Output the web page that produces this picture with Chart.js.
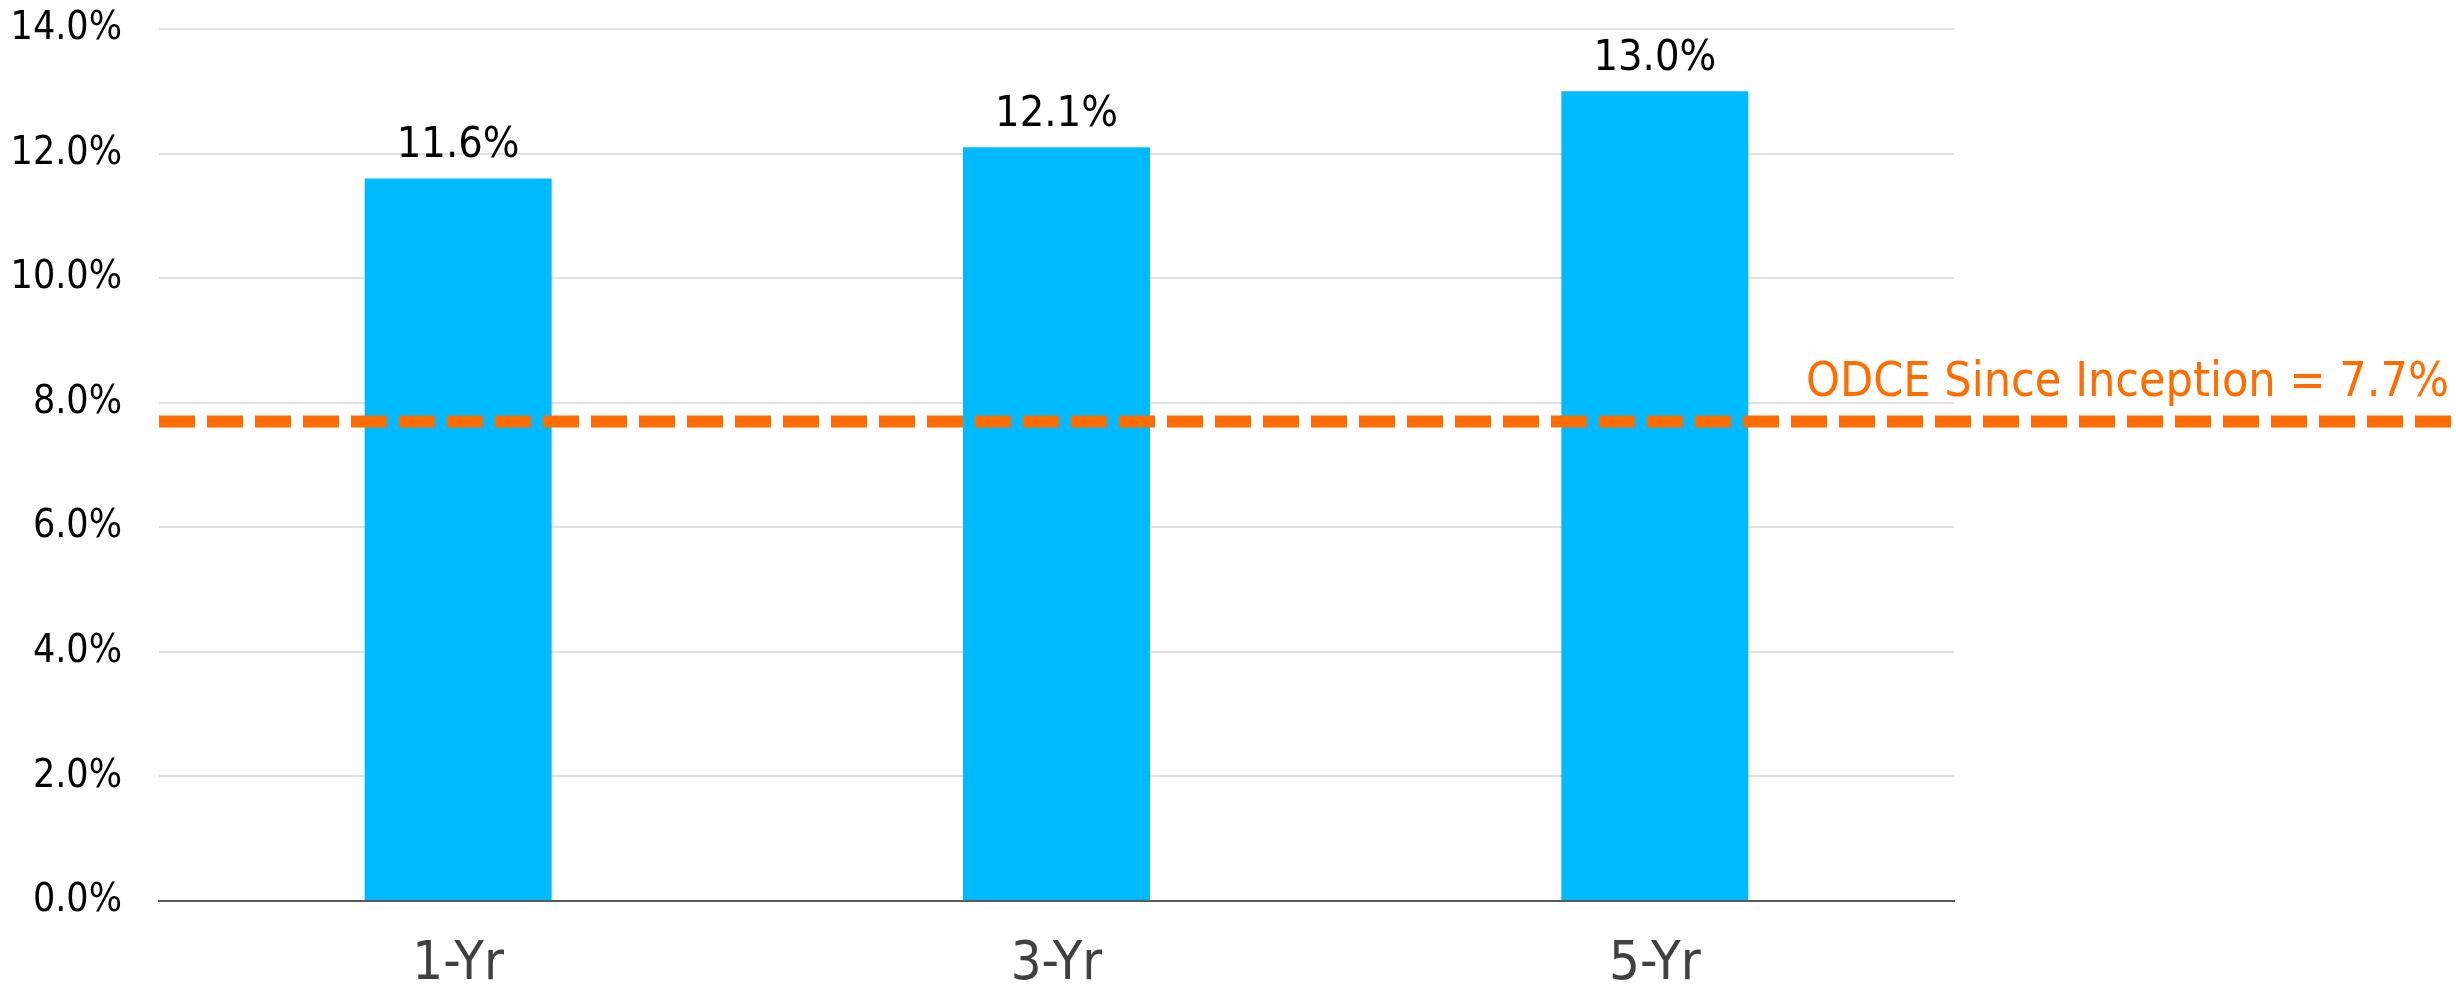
<!DOCTYPE html>
<html>
<head>
<meta charset="utf-8">
<script src="https://cdn.jsdelivr.net/npm/chart.js@4.4.1/dist/chart.umd.min.js"></script>
<style>
  html, body { margin: 0; padding: 0; background: #ffffff; }
  #wrap { width: 2456px; height: 984px; position: relative; }
</style>
</head>
<body>
<div id="wrap"><canvas id="c" width="2456" height="984"></canvas></div>
<script>
// ---- data ----
const categories = ["1-Yr", "3-Yr", "5-Yr"];
const returns = [11.6, 12.1, 13.0];
const benchmarkValue = 7.7;
const benchmarkLabel = "ODCE Since Inception = 7.7%";
const yTicks = [0, 2, 4, 6, 8, 10, 12, 14];

const FONT = '"DejaVu Sans Condensed", "DejaVu Sans", sans-serif';
const BAR_COLOR = '#00BAFF';
const ORANGE = '#FF6C00';

const benchmarkPlugin = {
  id: 'benchmark',
  afterDatasetsDraw(chart) {
    const ctx = chart.ctx;
    const y = chart.scales.y.getPixelForValue(benchmarkValue);
    const left = chart.chartArea.left;
    ctx.save();
    ctx.strokeStyle = ORANGE;
    ctx.lineWidth = 12;
    ctx.setLineDash([36, 12]);
    ctx.beginPath();
    ctx.moveTo(left, y);
    ctx.lineTo(chart.width, y);
    ctx.stroke();
    ctx.setLineDash([]);
    ctx.fillStyle = ORANGE;
    ctx.font = '48px ' + FONT;
    ctx.textAlign = 'right';
    ctx.textBaseline = 'alphabetic';
    ctx.fillText(benchmarkLabel, chart.width - 7, y - 25);
    ctx.restore();
  }
};

const valueLabelPlugin = {
  id: 'valueLabels',
  afterDatasetsDraw(chart) {
    const ctx = chart.ctx;
    const meta = chart.getDatasetMeta(0);
    ctx.save();
    ctx.fillStyle = '#000000';
    ctx.font = '43px ' + FONT;
    ctx.textAlign = 'center';
    ctx.textBaseline = 'alphabetic';
    meta.data.forEach((bar, i) => {
      ctx.fillText(returns[i].toFixed(1) + '%', bar.x, bar.y - 21);
    });
    ctx.restore();
  }
};

new Chart(document.getElementById('c'), {
  type: 'bar',
  data: {
    labels: categories,
    datasets: [{
      data: returns,
      backgroundColor: BAR_COLOR,
      borderWidth: 0,
      categoryPercentage: 1.0,
      barPercentage: 0.3125
    }]
  },
  options: {
    responsive: false,
    animation: false,
    devicePixelRatio: 1,
    layout: { padding: { top: 29, right: 502, left: 0, bottom: 0 } },
    plugins: {
      legend: { display: false },
      tooltip: { enabled: false },
      title: { display: false }
    },
    scales: {
      x: {
        grid: { display: false, drawTicks: false },
        border: { display: true, color: '#595959', width: 2 },
        ticks: {
          color: '#404040',
          font: { family: FONT, size: 54 },
          padding: 32
        },
        afterFit(scale) {
          scale.height = 83;
          scale.paddingLeft = 0; scale.paddingRight = 0;
          scale.paddingTop = 0; scale.paddingBottom = 0;
        }
      },
      y: {
        min: 0,
        max: 14,
        afterBuildTicks(scale) { scale.ticks = yTicks.map(v => ({ value: v })); },
        grid: { color: '#e0e0e0', lineWidth: 2, drawTicks: false },
        border: { display: false },
        ticks: {
          color: '#000000',
          font: { family: FONT, size: 39 },
          padding: 37,
          callback: (v) => Number(v).toFixed(1) + '%'
        },
        afterFit(scale) {
          scale.width = 159;
          scale.paddingTop = 0; scale.paddingBottom = 0;
          scale.paddingLeft = 0; scale.paddingRight = 0;
        }
      }
    }
  },
  plugins: [valueLabelPlugin, benchmarkPlugin]
});
</script>
</body>
</html>
